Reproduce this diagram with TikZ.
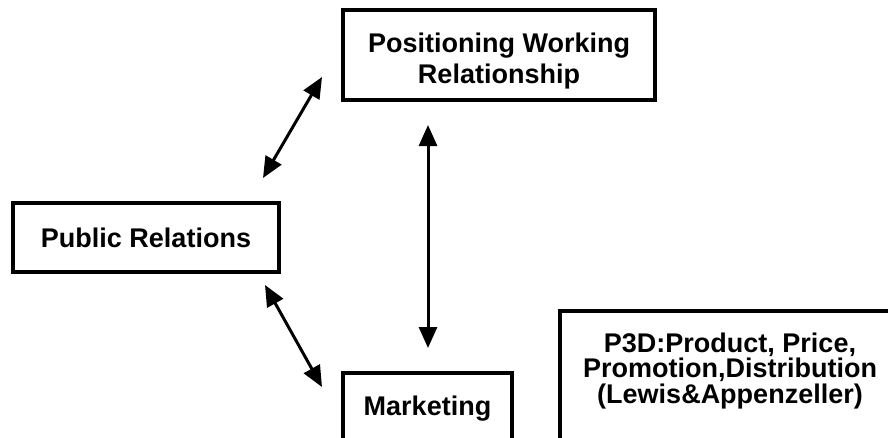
\documentclass[tikz,border=0pt]{standalone}
\usepackage{fontspec}
\setmainfont{Liberation Sans}
\usetikzlibrary{arrows.meta}

\tikzset{
  box/.style={draw, line width=3.5pt, inner sep=0pt, align=center,
    font=\bfseries\fontsize{27}{31}\selectfont},
  link/.style={line width=3pt, {Triangle[length=21pt,width=18pt]}-{Triangle[length=21pt,width=18pt]}}
}

\begin{document}
\begin{tikzpicture}[x=1pt, y=-1pt]
    \useasboundingbox (0,0) rectangle (888,437);

    \node [box, minimum width=312pt, minimum height=90pt, text height=62pt] (pos) at (499,55)
      {Positioning Working\\Relationship};
    \node [box, minimum width=266pt, minimum height=69pt] (pr) at (146,237.5)
      {Public Relations};
    \node [box, minimum width=169pt, minimum height=72pt] (mkt) at (427.5,409)
      {Marketing};
    \node [box, minimum width=340pt, minimum height=134pt, text depth=20pt,
      font=\bfseries\fontsize{27}{25.5}\selectfont] (pd) at (730,378)
      {P3D:Product, Price,\\Promotion,Distribution\\(Lewis\&Appenzeller)};

    % arrow ends
    \coordinate (pr-up) at (263,178);
    \coordinate (pos-in) at (322,77);
    \coordinate (pr-down) at (265,285);
    \coordinate (mkt-in) at (322,387);
    \coordinate (pos-out) at (428,125);
    \coordinate (mkt-up) at (428,348);

    \draw [link] (pr-up) -- (pos-in);
    \draw [link] (pr-down) -- (mkt-in);
    \draw [link] (pos-out) -- (mkt-up);
\end{tikzpicture}
\end{document}
